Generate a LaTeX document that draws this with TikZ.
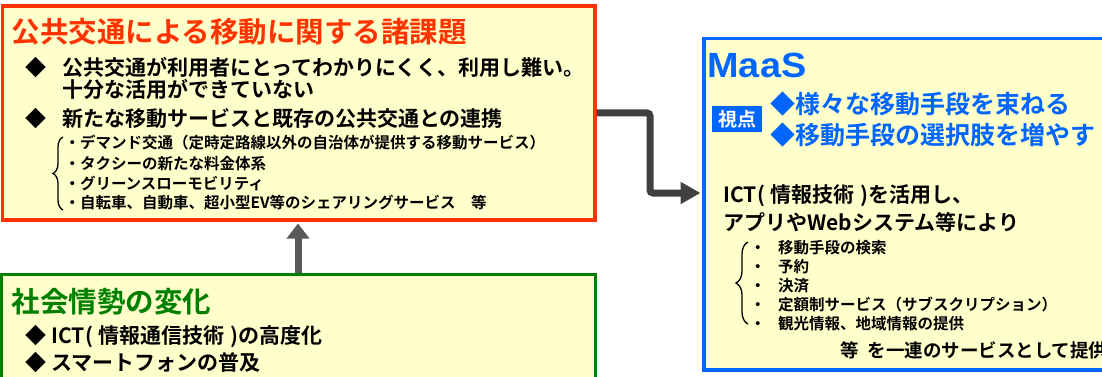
\documentclass[tikz,border=0pt]{standalone}
\usepackage{fontspec}
\setmainfont{Noto Sans CJK JP}[BoldFont={Noto Sans CJK JP Bold}]
\newfontfamily\maasfont{Liberation Sans}
\usetikzlibrary{decorations.pathreplacing,arrows.meta}
\definecolor{bgyellow}{HTML}{FFFFCC}
\definecolor{myred}{HTML}{FF3300}
\definecolor{mygreen}{HTML}{008000}
\definecolor{myblue}{HTML}{0066FF}
\definecolor{arrowgray}{HTML}{595959}
\definecolor{arrowdark}{HTML}{404040}
\newcommand\fsz[1]{\fontsize{#1}{#1}\selectfont}
\begin{document}
\begin{tikzpicture}[x=1pt,y=-1pt,
  panel/.style={draw, fill=bgyellow, line width=3.5pt, inner sep=0pt, rectangle},
  txt/.style={anchor=base west, inner sep=0pt, outer sep=0pt},
  ttl/.style={txt, font={\bfseries\fsz{28.5}}},
  main/.style={txt, font={\bfseries\fsz{21}}},
  sub/.style={txt, font={\bfseries\fsz{15.5}}},
  bsub/.style={txt, font={\bfseries\fsz{15.5}}},
  vp/.style={txt, font={\bfseries\fsz{25}}, text=myblue},
  bracestyle/.style={decorate, line width=1.3pt},
  uparrow/.style={draw=arrowgray, line width=7pt, -{Triangle[length=15pt,width=22pt]}},
  elbow/.style={draw=arrowdark, line width=7pt, rounded corners=3pt, -{Triangle[length=20pt,width=21pt]}}
]
\useasboundingbox (0,0) rectangle (1102,377);
\clip (0,0) rectangle (1102,377);
\fill[white] (0,0) rectangle (1102,377);

% boxes
\node[panel, draw=myred, minimum width=592.5pt, minimum height=214pt] (issues) at (298.75,113) {};
\node[panel, draw=mygreen, line width=3pt, minimum width=593.5pt, minimum height=130pt] (society) at (298.25,339.5) {};
\node[panel, draw=myblue, line width=3.5pt, minimum width=500pt, minimum height=331.5pt] (maas) at (954,204.25) {};

% connectors
\coordinate (upx) at (298,0);
\coordinate (tgt) at (0,193);
\draw[uparrow] (society.north -| upx) -- ([yshift=-1.75pt]issues.south -| upx);
\draw[elbow] (issues.east) -| (650,152) |- ([xshift=-1.75pt]maas.west |- tgt);

% red box texts
\node[ttl, text=myred] (issuesT) at (11.5,42.8) {公共交通による移動に関する諸課題};
\node[main] (ib1d) at (25,76) {◆};
\node[main] (ib1) at (62,76) {公共交通が利用者にとってわかりにくく、利用し難い。};
\node[main] (ib1b) at (62,98) {十分な活用ができていない};
\node[main] (ib2d) at (25,127) {◆};
\node[main] (ib2) at (62,127) {新たな移動サービスと既存の公共交通との連携};
\node[sub] (is1) at (64.5,148.3) {・デマンド交通（定時定路線以外の自治体が提供する移動サービス）};
\node[sub] (is2) at (64.5,169.3) {・タクシーの新たな料金体系};
\node[sub] (is3) at (64.5,189.3) {・グリーンスローモビリティ};
\node[sub] (is4) at (64.5,208.3) {・自転車、自動車、超小型EV等のシェアリングサービス　等};
\draw[bracestyle, decoration={brace, amplitude=10pt}] (63,210) -- (63,137);

% green box texts
\node[ttl, text=mygreen] (socT) at (11.5,312.8) {社会情勢の変化};
\node[main] (sb1d) at (25,343) {◆};
\node[main] (sb1) at (51.5,343) {ICT(\hspace{6pt}情報通信技術\hspace{6pt})の高度化};
\node[main] (sb2d) at (25,370) {◆};
\node[main] (sb2) at (51.5,370) {スマートフォンの普及};

% blue box texts
\node[txt, font={\maasfont\bfseries\fsz{35}}, text=myblue, xscale=1.08] (maasT) at (707.5,78) {MaaS};
\node[fill=myblue, text=white, inner sep=0pt, minimum width=50pt, minimum height=26pt, font={\bfseries\fsz{19}}] (vpt) at (737,119) {視点};
\node[vp] (vp1) at (770,113.5) {◆様々な移動手段を束ねる};
\node[vp] (vp2) at (770,144.5) {◆移動手段の選択肢を増やす};
\node[main] (mt1) at (723.5,202) {ICT(\hspace{6pt}情報技術\hspace{6pt})を活用し、};
\node[main] (mt2) at (723.5,230) {アプリやWebシステム等により};
\node[bsub] (bd1) at (750,253) {・};
\node[bsub] (bs1) at (778,253) {移動手段の検索};
\node[bsub] (bd2) at (750,272) {・};
\node[bsub] (bs2) at (778,272) {予約};
\node[bsub] (bd3) at (750,291) {・};
\node[bsub] (bs3) at (778,291) {決済};
\node[bsub] (bd4) at (750,310) {・};
\node[bsub] (bs4) at (778,310) {定額制サービス（サブスクリプション）};
\node[bsub] (bd5) at (750,329) {・};
\node[bsub] (bs5) at (778,329) {観光情報、地域情報の提供};
\draw[bracestyle, decoration={brace, amplitude=12pt}] (748,324) -- (748,242);
\node[txt, font={\bfseries\fsz{18.5}}] (mt3) at (840,357) {等\hspace{9pt}を一連のサービスとして提供};
\end{tikzpicture}
\end{document}
